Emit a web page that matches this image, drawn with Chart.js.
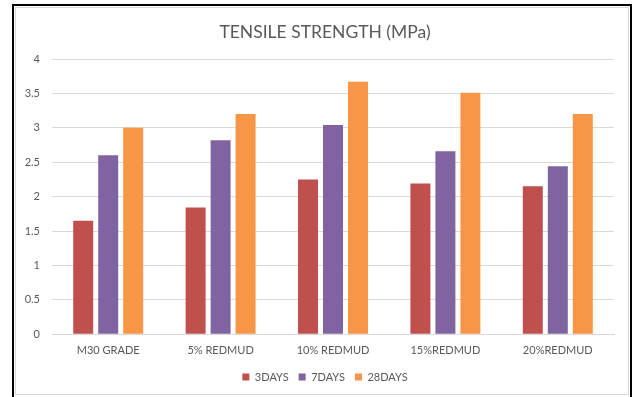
<!DOCTYPE html>
<html>
<head>
<meta charset="utf-8">
<script src="https://cdn.jsdelivr.net/npm/chart.js@4.4.1/dist/chart.umd.min.js"></script>
<style>
  html, body { margin: 0; padding: 0; background: #fff; overflow: hidden; }
  #wrap { position: relative; width: 632px; height: 397px; overflow: hidden; }
  #c { position: absolute; left: 0; top: 0; }
  .frame-outer { position: absolute; left: 12px; top: 4px; width: 616px; height: 420px; border: 2px solid #000; pointer-events: none; }
  .frame-inner { position: absolute; left: 15px; top: 7px; width: 612px; height: 386px; border: 1px solid #d9d9d9; pointer-events: none; }
</style>
</head>
<body>
<div id="wrap">
  <canvas id="c" width="632" height="397"></canvas>
  <div class="frame-inner"></div>
  <div class="frame-outer"></div>
</div>
<script>
const categories = ["M30 GRADE", "5% REDMUD", "10% REDMUD", "15%REDMUD", "20%REDMUD"];
const days3 = [1.65, 1.84, 2.25, 2.19, 2.15];
const days7 = [2.60, 2.82, 3.04, 2.66, 2.44];
const days28 = [3.00, 3.20, 3.67, 3.51, 3.20];
const seriesNames = ["3DAYS", "7DAYS", "28DAYS"];
const yTicks = [0, 0.5, 1, 1.5, 2, 2.5, 3, 3.5, 4];
const chartTitle = "TENSILE STRENGTH (MPa)";

const FONT = "Lato, 'Open Sans', sans-serif";
const TXT = "#595959";

new Chart(document.getElementById("c"), {
  type: "bar",
  data: {
    labels: categories,
    datasets: [
      { label: seriesNames[0], data: days3, backgroundColor: "#C0504D" },
      { label: seriesNames[1], data: days7, backgroundColor: "#8064A2" },
      { label: seriesNames[2], data: days28, backgroundColor: "#F79646" }
    ]
  },
  options: {
    responsive: false,
    animation: false,
    devicePixelRatio: 1,
    layout: { padding: { left: 36, right: 18, top: 0, bottom: 4.4 } },
    datasets: { bar: { categoryPercentage: 0.667, barPercentage: 0.8 } },
    plugins: {
      title: {
        display: true,
        text: chartTitle,
        color: TXT,
        font: { family: FONT, size: 17.5, weight: "normal" },
        padding: { top: 21.5, bottom: 16.5 }
      },
      legend: {
        position: "bottom",
        labels: {
          boxWidth: 7, boxHeight: 7, padding: 10,
          color: TXT,
          font: { family: FONT, size: 11 }
        }
      },
      tooltip: { enabled: false }
    },
    scales: {
      x: {
        grid: { display: false, drawTicks: false },
        border: { display: true, color: "#d9d9d9" },
        ticks: { color: TXT, font: { family: FONT, size: 11 }, padding: 9.4, maxRotation: 0 },
        afterFit: (s) => { s.height = 27.4; }
      },
      y: {
        min: 0, max: 4,
        afterBuildTicks: (s) => { s.ticks = yTicks.map(v => ({ value: v })); },
        grid: { color: "#d9d9d9", drawTicks: false },
        border: { display: false },
        ticks: { color: TXT, font: { family: FONT, size: 11 }, padding: 12, callback: (v) => String(v) },
        afterFit: (s) => {
          s.width = 16;
          // let tick labels extend left of the (narrow) axis box without clipping
          s._computeLabelArea = () => undefined;
        }
      }
    }
  }
});
</script>
</body>
</html>
